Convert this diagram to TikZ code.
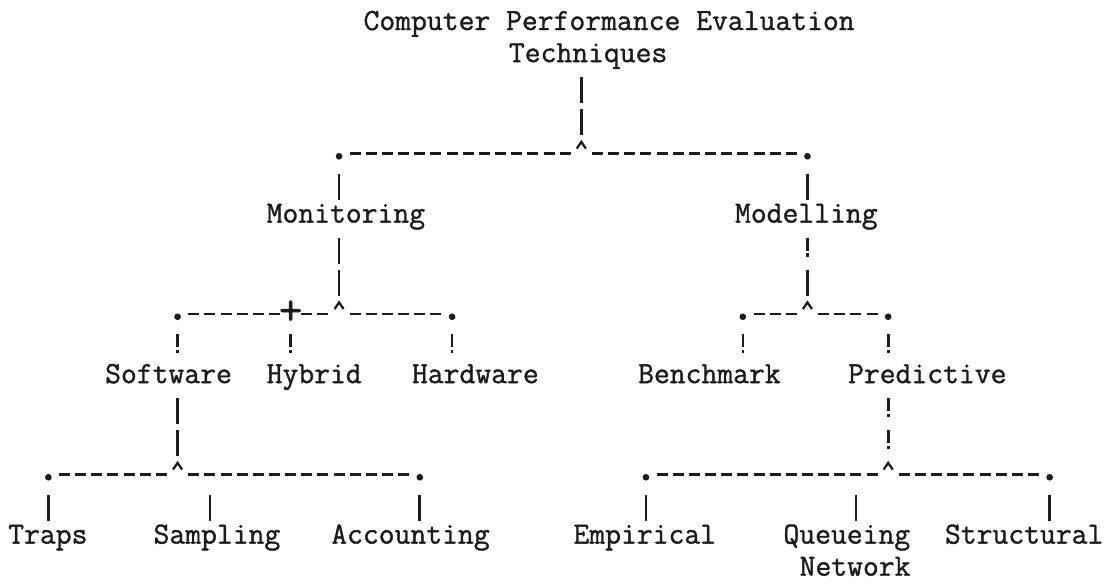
\documentclass[tikz,border=0pt]{standalone}
\usepackage{fontspec}
\usepackage{xcolor}
\definecolor{ink}{RGB}{28,28,28}
\newfontfamily\twfont{lmmono12-regular.otf}[FakeBold=1.2]
\newcommand{\tw}{\twfont\fontsize{23.07pt}{24.075pt}\selectfont}
\newcommand{\twbig}{\twfont\fontsize{34pt}{34pt}\selectfont}

\begin{document}
\begin{tikzpicture}[x=12.1125pt, y=-24.075pt, color=ink,
    lbl/.style={anchor=base west, inner sep=0pt, font=\tw, text=ink},
    plusmark/.style={anchor=center, inner sep=0pt, font=\twbig, text=ink, yshift=4.8pt},
    caret/.style={line width=1.7pt, line join=miter},
    tdot/.style={circle, fill=ink, inner sep=0pt, minimum size=5pt, yshift=1.6pt},
    vbar/.style={line width=2pt, dash pattern=on 19.5pt off 4.575pt, shorten <=11.325pt, shorten >=17.325pt},
    excl/.style={line width=2pt, dash pattern=on 9.75pt off 1.9pt on 2.6pt off 9.825pt, shorten <=11.325pt, shorten >=17.325pt},
    exclbar/.style={line width=2pt, dash pattern=on 9.75pt off 1.9pt on 2.6pt off 9.825pt on 19.5pt off 4.575pt, shorten <=11.325pt, shorten >=17.325pt},
    bus/.style={line width=2.1pt, dash pattern=on 8.25pt off 3.8625pt, shorten <=8pt, shorten >=8pt}]
    \useasboundingbox (-6pt,22.5pt) rectangle (823.5pt,-414.75pt);
    \node[lbl] (cpe) at (22,0) {Computer Performance Evaluation};
    \node[lbl] (tech) at (31,1) {Techniques};
    \node[lbl] (mon) at (16,6) {Monitoring};
    \node[lbl] (mod) at (45,6) {Modelling};
    \node[lbl] (sw) at (6,11) {Software};
    \node[lbl] (hyb) at (16,11) {Hybrid};
    \node[lbl] (hw) at (25,11) {Hardware};
    \node[lbl] (bm) at (39,11) {Benchmark};
    \node[lbl] (pred) at (52,11) {Predictive};
    \node[lbl] (trap) at (0,16) {Traps};
    \node[lbl] (samp) at (9,16) {Sampling};
    \node[lbl] (acc) at (20,16) {Accounting};
    \node[lbl] (emp) at (35,16) {Empirical};
    \node[lbl] (que) at (48,16) {Queueing};
    \node[lbl] (net) at (49,17) {Network};
    \node[lbl] (str) at (58,16) {Structural};
    \coordinate (j1) at (35.5,4);
    \coordinate (j1l) at (20.5,4);
    \coordinate (j1r) at (49.5,4);
    \coordinate (j2) at (20.5,9);
    \coordinate (j2l) at (10.5,9);
    \coordinate (j2p) at (17.5,9);
    \coordinate (j2r) at (27.5,9);
    \coordinate (j3) at (49.5,9);
    \coordinate (j3l) at (45.5,9);
    \coordinate (j3r) at (54.5,9);
    \coordinate (j4) at (10.5,14);
    \coordinate (j4l) at (2.5,14);
    \coordinate (j4m) at (12.5,14);
    \coordinate (j4r) at (25.5,14);
    \coordinate (j5) at (54.5,14);
    \coordinate (j5l) at (39.5,14);
    \coordinate (j5m) at (52.5,14);
    \coordinate (j5r) at (64.5,14);
    \foreach \j in {j1,j2,j3,j4,j5}
        \draw[caret] ([shift={(-3.4pt,7.4pt)}]\j) -- ([yshift=12.4pt]\j) -- ([shift={(3.4pt,7.4pt)}]\j);
    \node[plusmark] (plus) at (j2p) {+};
    \foreach \j in {j1l,j1r,j2l,j2r,j3l,j3r,j4l,j4r,j5l,j5r}
        \node[tdot] (d\j) at (\j) {};
    \foreach \a/\b in {j1l/j1, j1/j1r, j2l/j2p, j2p/j2, j2/j2r, j3l/j3, j3/j3r, j4l/j4, j4/j4r, j5l/j5, j5/j5r}
        \draw[bus] ([yshift=3.75pt]\a) -- ([yshift=3.75pt]\b);
    \draw[vbar] (tech.base -| j1) -- (j1);
    \draw[vbar] (j1l) -- (mon.base -| j1l);
    \draw[vbar] (j1r) -- (mod.base -| j1r);
    \draw[vbar] (mon.base -| j2) -- (j2);
    \draw[exclbar] (mod.base -| j3) -- (j3);
    \draw[excl] (j2l) -- (sw.base -| j2l);
    \draw[excl] (j2p) -- (hyb.base -| j2p);
    \draw[excl] (j2r) -- (hw.base -| j2r);
    \draw[excl] (j3l) -- (bm.base -| j3l);
    \draw[excl] (j3r) -- (pred.base -| j3r);
    \draw[vbar] (sw.base -| j4) -- (j4);
    \draw[excl] (pred.base -| j5) -- (j5);
    \draw[vbar] (j4l) -- (trap.base -| j4l);
    \draw[vbar] (j4m) -- (samp.base -| j4m);
    \draw[vbar] (j4r) -- (acc.base -| j4r);
    \draw[vbar] (j5l) -- (emp.base -| j5l);
    \draw[vbar] (j5m) -- (que.base -| j5m);
    \draw[vbar] (j5r) -- (str.base -| j5r);
\end{tikzpicture}
\end{document}
